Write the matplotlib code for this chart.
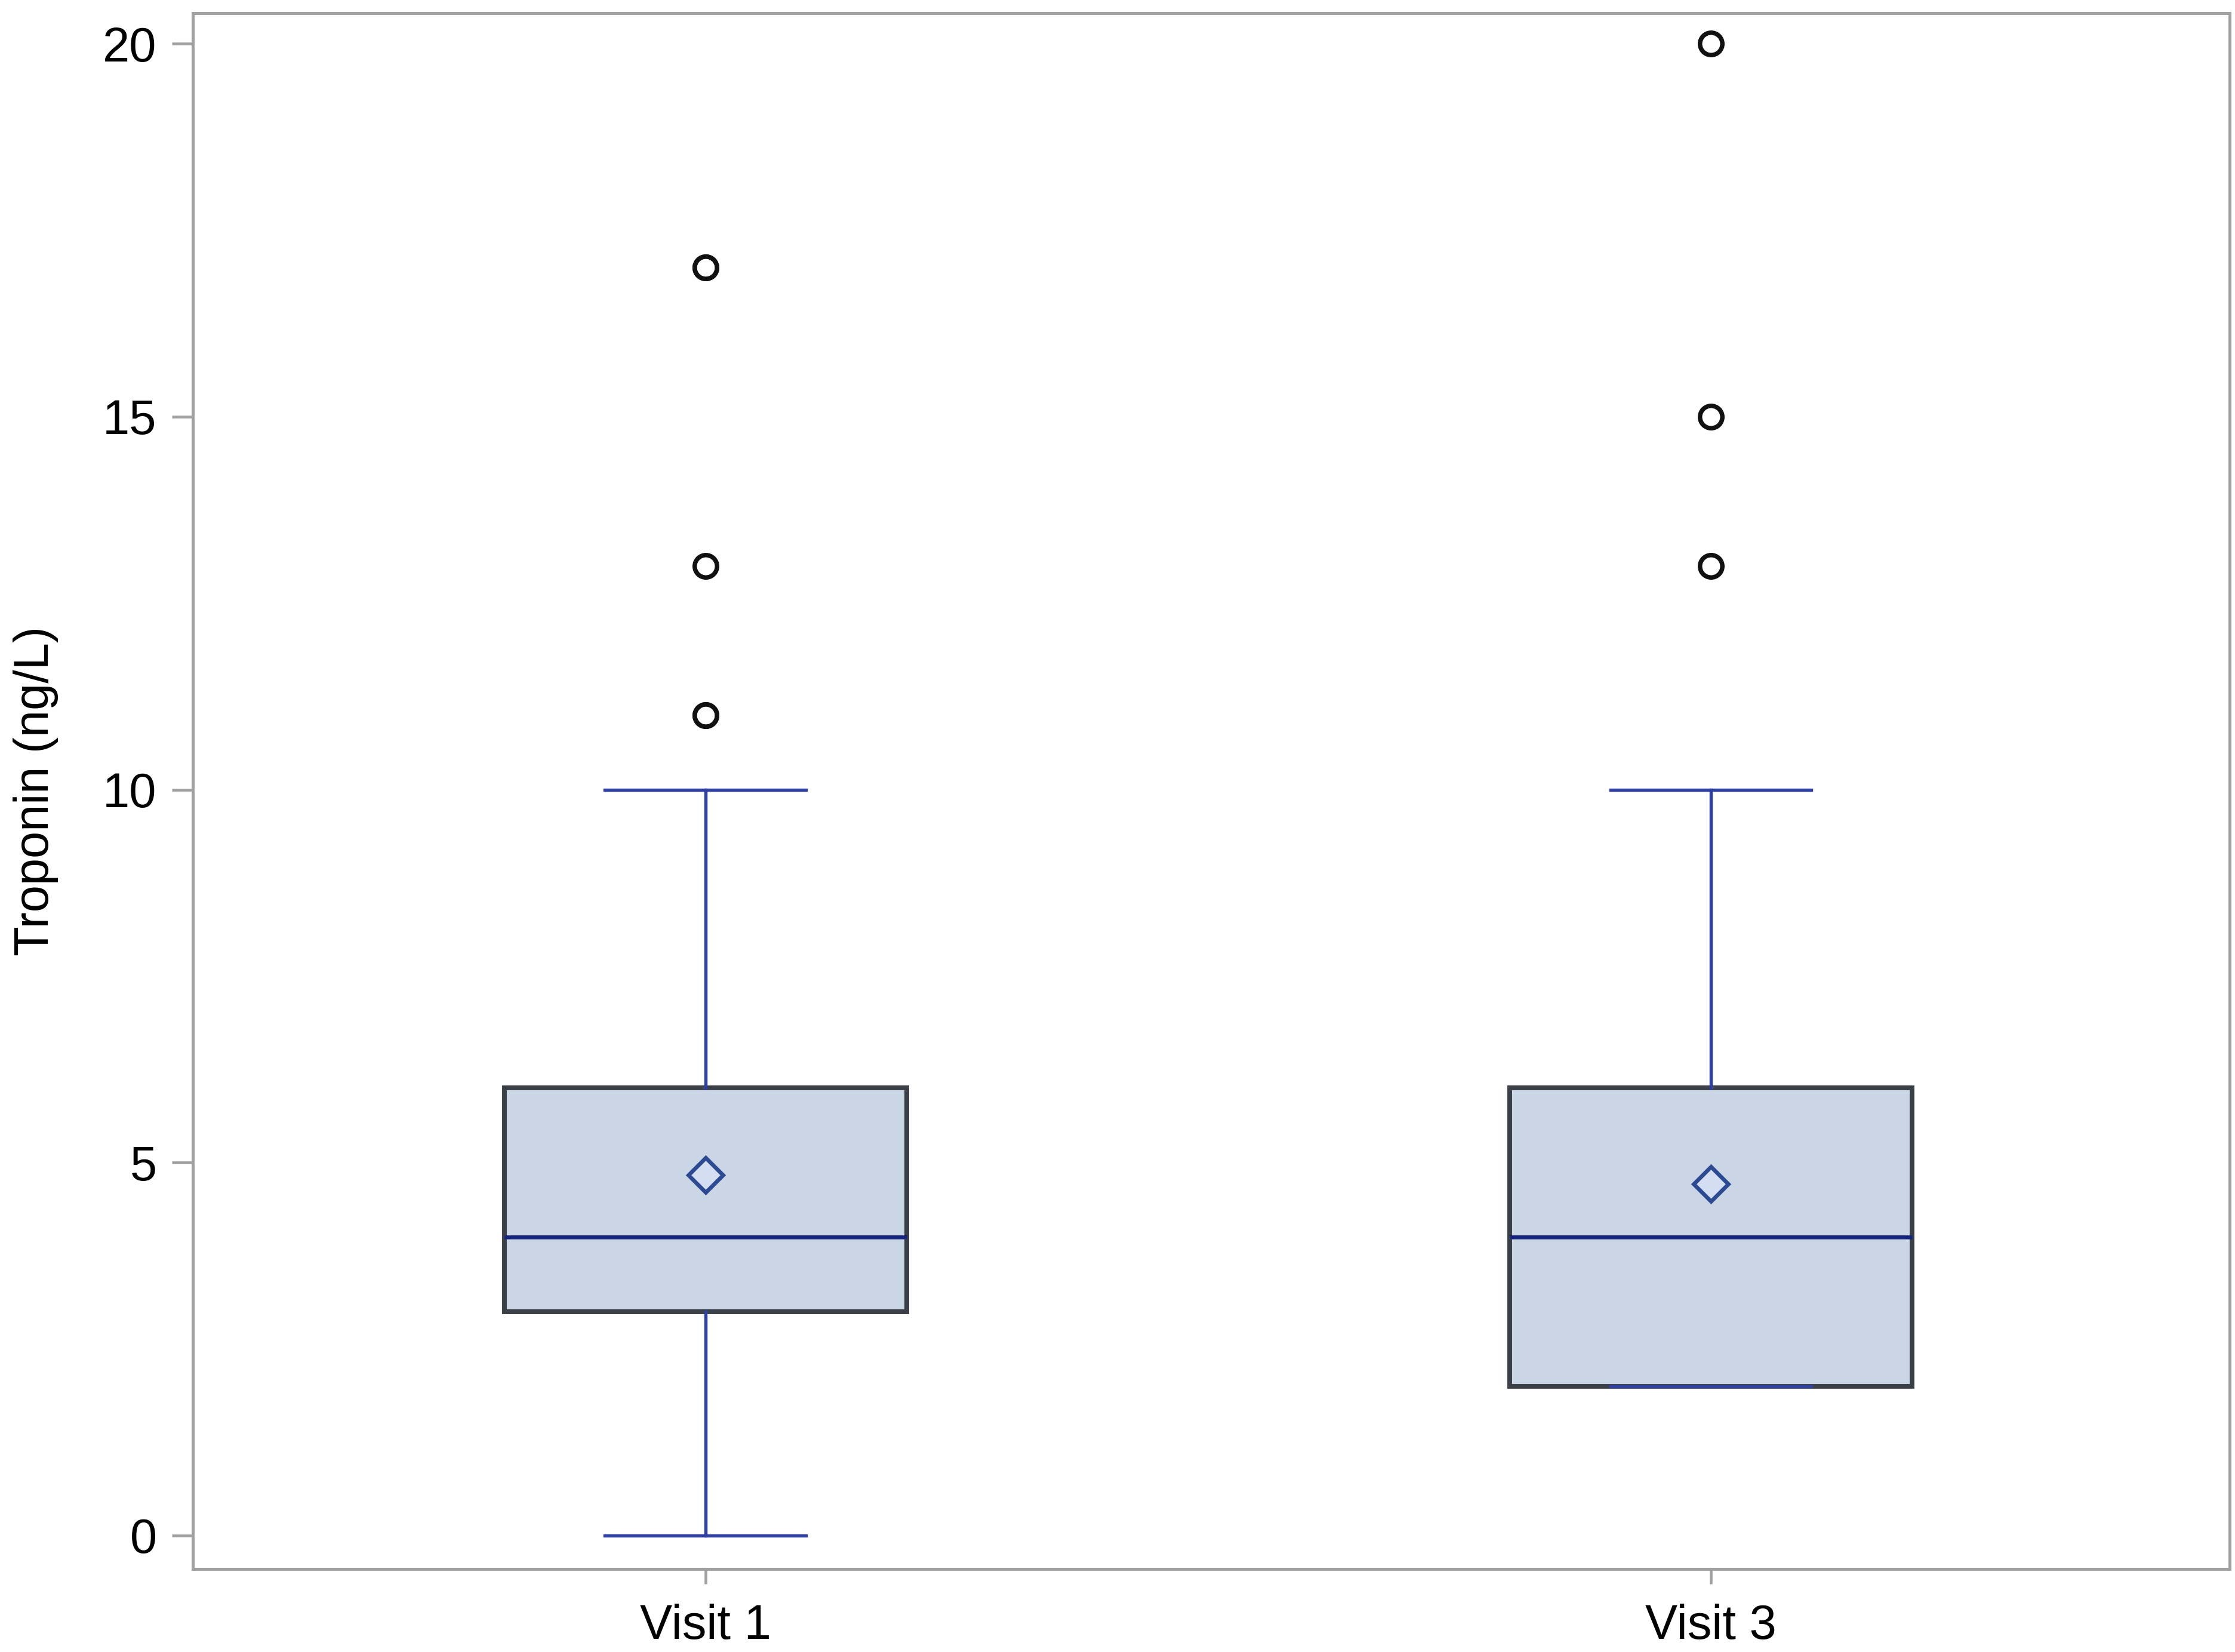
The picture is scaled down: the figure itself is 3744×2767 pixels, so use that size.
import matplotlib.pyplot as plt
import matplotlib as mpl

# ── style ──
mpl.rcParams.update({
    'font.family': ['Liberation Sans', 'DejaVu Sans'],
    'font.size': 19,
    'axes.linewidth': 1.2,
    'axes.edgecolor': '#a0a0a0',
})

# ── data ──
visits   = ['Visit 1', 'Visit 3']
whislo   = [0, 2]
q1       = [3, 2]
median   = [4, 4]
q3       = [6, 6]
whishi   = [10, 10]
means    = [4.83, 4.71]
fliers   = [[11, 11, 13, 17, 17], [13, 15, 20]]
y_ticks  = [0, 5, 10, 15, 20]

stats = []
for i, name in enumerate(visits):
    stats.append(dict(label=name, whislo=whislo[i], q1=q1[i], med=median[i],
                      q3=q3[i], whishi=whishi[i], mean=means[i],
                      fliers=fliers[i]))

# colours
BOX_FILL = '#cad5e6'
BOX_EDGE = '#3b4048'
WHISK    = '#2f40a0'
MED      = '#14247c'
MEAN_E   = '#2b4a92'
MEAN_F   = '#d3def2'

fig = plt.figure(figsize=(3745 / 300, 2767 / 300), dpi=300)
ax = fig.add_axes([323 / 3745, 1 - 2628 / 2767,
                   (3735 - 323) / 3745, (2628 - 22) / 2767])

ax.bxp(stats, positions=range(len(visits)), widths=0.4, capwidths=0.2,
       patch_artist=True, showmeans=True, manage_ticks=False,
       boxprops=dict(facecolor=BOX_FILL, edgecolor=BOX_EDGE, linewidth=1.9),
       whiskerprops=dict(color=WHISK, linewidth=1.3),
       capprops=dict(color=WHISK, linewidth=1.3),
       medianprops=dict(color=MED, linewidth=1.6),
       meanprops=dict(marker='D', markersize=10, markerfacecolor=MEAN_F,
                      markeredgecolor=MEAN_E, markeredgewidth=1.6),
       flierprops=dict(marker='o', markersize=9, markerfacecolor='none',
                       markeredgecolor='#111111', markeredgewidth=1.8))

ax.set_xlim(-0.51, 1.516)
ax.set_ylim(-0.45, 20.41)
ax.set_xticks(range(len(visits)))
ax.set_xticklabels(visits)
ax.set_yticks(y_ticks)

ax.tick_params(axis='y', length=8.5, width=1.1, color='#a0a0a0', pad=6,
               labelsize=19.5)
ax.tick_params(axis='x', length=6, width=1.1, color='#a0a0a0', pad=8,
               labelsize=19.5)

ax.set_ylabel('Troponin (ng/L)', fontsize=19.5)
ax.yaxis.set_label_coords(-0.066, 0.5)

fig.savefig('out.png', dpi=300, facecolor='white')
